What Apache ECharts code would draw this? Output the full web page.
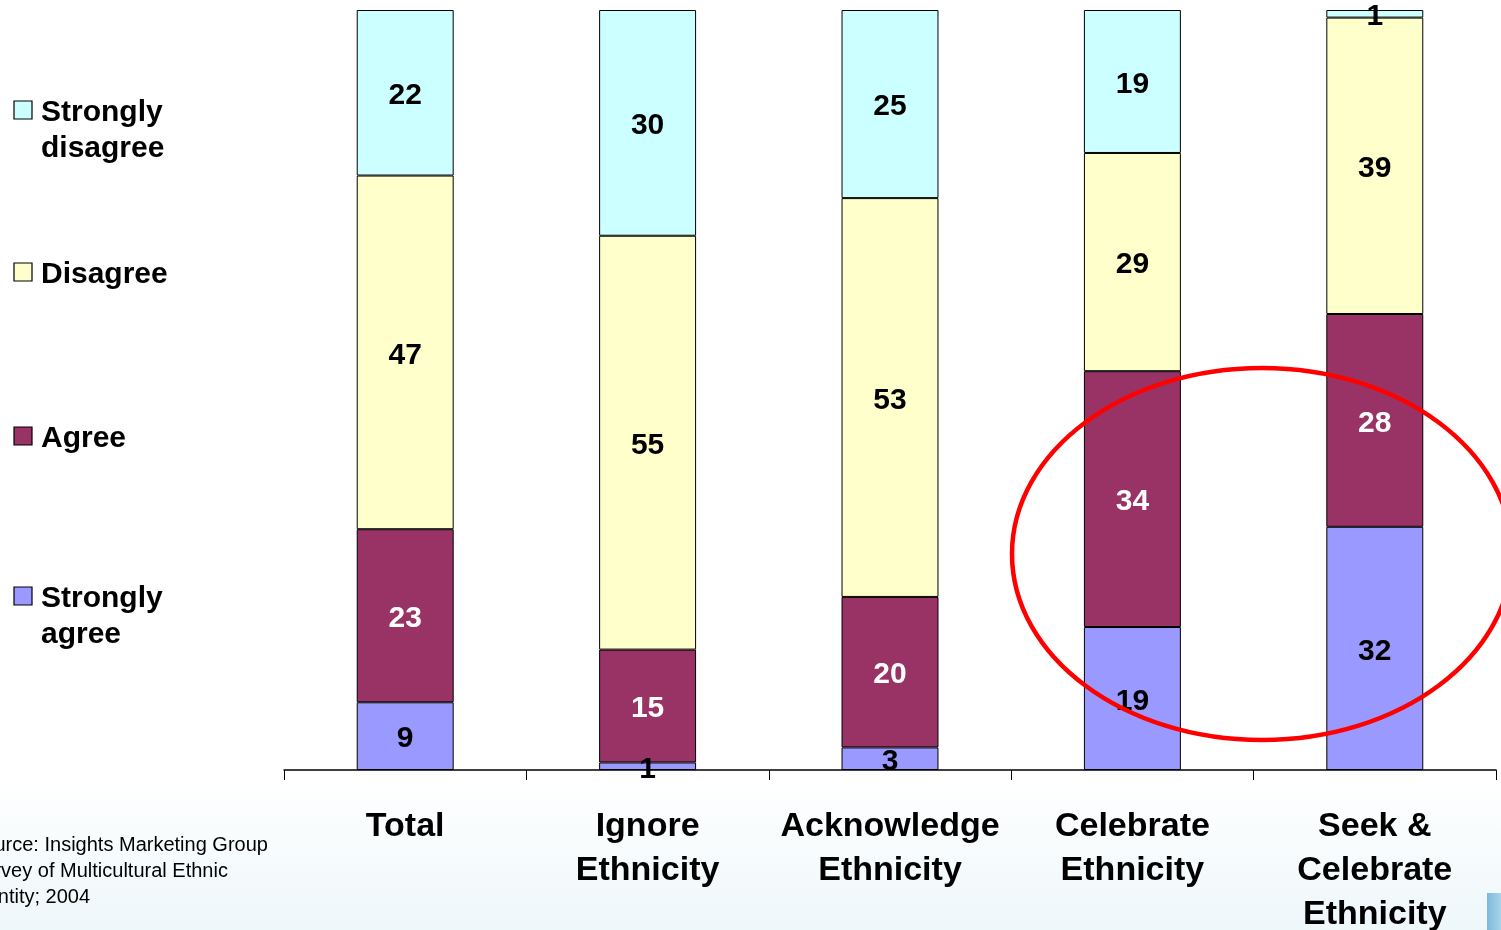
<!DOCTYPE html>
<html>
<head>
<meta charset="utf-8">
<script src="https://cdn.jsdelivr.net/npm/echarts@6/dist/echarts.min.js"></script>
<style>
html,body{margin:0;padding:0;background:#fff;}
#chart{width:1501px;height:930px;}
</style>
</head>
<body>
<div id="chart"></div>
<script>
var categories = ['Total', 'Ignore\nEthnicity', 'Acknowledge\nEthnicity', 'Celebrate\nEthnicity', 'Seek &\nCelebrate\nEthnicity'];
var stronglyAgree = [9, 1, 3, 19, 32];
var agree = [23, 15, 20, 34, 28];
var disagree = [47, 55, 53, 29, 39];
var stronglyDisagree = [22, 30, 25, 19, 1];
var seriesNames = ['Strongly agree', 'Agree', 'Disagree', 'Strongly disagree'];
var legendLabels = ['Strongly\nagree', 'Agree', 'Disagree', 'Strongly\ndisagree'];
var sourceText = 'Source: Insights Marketing Group\nSurvey of Multicultural Ethnic\nIdentity; 2004';

var colors = ['#9999FF', '#993366', '#FFFFCC', '#CCFFFF'];
var labelColors = ['#000', '#fff', '#000', '#000'];
var raw = [stronglyAgree, agree, disagree, stronglyDisagree];
var totals = categories.map(function (c, i) {
  return raw.reduce(function (s, arr) { return s + arr[i]; }, 0);
});
var FONT = 'Arial, "Liberation Sans", sans-serif';

var series = raw.map(function (arr, k) {
  return {
    name: seriesNames[k],
    type: 'bar',
    stack: 'all',
    barWidth: '40%',
    data: arr.map(function (v, i) { return v / totals[i] * 100; }),
    itemStyle: { color: colors[k], borderColor: '#000', borderWidth: 1 },
    label: {
      show: true,
      position: 'inside',
      offset: [0, 3],
      formatter: function (p) { return String(arr[p.dataIndex]); },
      color: labelColors[k],
      fontFamily: FONT,
      fontWeight: 'bold',
      fontSize: 30,
      textBorderWidth: 0
    },
    emphasis: { disabled: true }
  };
});

// legend (top to bottom: Strongly disagree, Disagree, Agree, Strongly agree)
var legendY = [113, 275, 439, 599];
var legendGraphics = [];
[3, 2, 1, 0].forEach(function (k, j) {
  var cy = legendY[j];
  legendGraphics.push({
    type: 'rect', shape: { x: 14, y: cy - 12, width: 18, height: 18 },
    style: { fill: colors[k], stroke: '#000', lineWidth: 1.2 }, z: 10
  });
  legendGraphics.push({
    type: 'text', x: 41, y: cy - 18,
    style: { text: legendLabels[k], font: 'bold 30px ' + FONT, fill: '#000', lineHeight: 36, verticalAlign: 'top', align: 'left' },
    z: 10
  });
});

var option = {
  backgroundColor: {
    type: 'linear', x: 0, y: 0, x2: 0, y2: 1,
    colorStops: [
      { offset: 0, color: '#ffffff' },
      { offset: 0.84, color: '#ffffff' },
      { offset: 1, color: '#eef7fa' }
    ]
  },
  animation: false,
  grid: { left: 284, right: 5, top: 10, bottom: 160, containLabel: false, outerBoundsMode: 'none' },
  xAxis: {
    type: 'category',
    data: categories,
    axisLine: { lineStyle: { color: '#000', width: 1.5 } },
    axisTick: { show: true, length: 10, lineStyle: { color: '#000', width: 1 } },
    axisLabel: {
      interval: 0, margin: 35, color: '#000',
      fontFamily: FONT, fontWeight: 'bold', fontSize: 34, lineHeight: 44
    }
  },
  yAxis: { type: 'value', min: 0, max: 100, show: false, splitLine: { show: false } },
  series: series,
  graphic: legendGraphics.concat([
    {
      type: 'text', x: -30, y: 832,
      style: { text: sourceText, font: '20px ' + FONT, fill: '#000', lineHeight: 26, verticalAlign: 'top', align: 'left' },
      z: 10
    },
    {
      type: 'ellipse', shape: { cx: 1262, cy: 554, rx: 250, ry: 186 },
      style: { fill: null, stroke: '#ff0000', lineWidth: 4.5 }, z: 100
    },
    {
      type: 'rect', shape: { x: 1487, y: 893, width: 14, height: 37 },
      style: { fill: { type: 'linear', x: 0, y: 0, x2: 1, y2: 0, colorStops: [{ offset: 0, color: '#7db9dc' }, { offset: 1, color: '#a9d3ea' }] } },
      z: 5
    }
  ])
};

var chart = echarts.init(document.getElementById('chart'), null, { renderer: 'canvas' });
chart.setOption(option);
</script>
</body>
</html>
